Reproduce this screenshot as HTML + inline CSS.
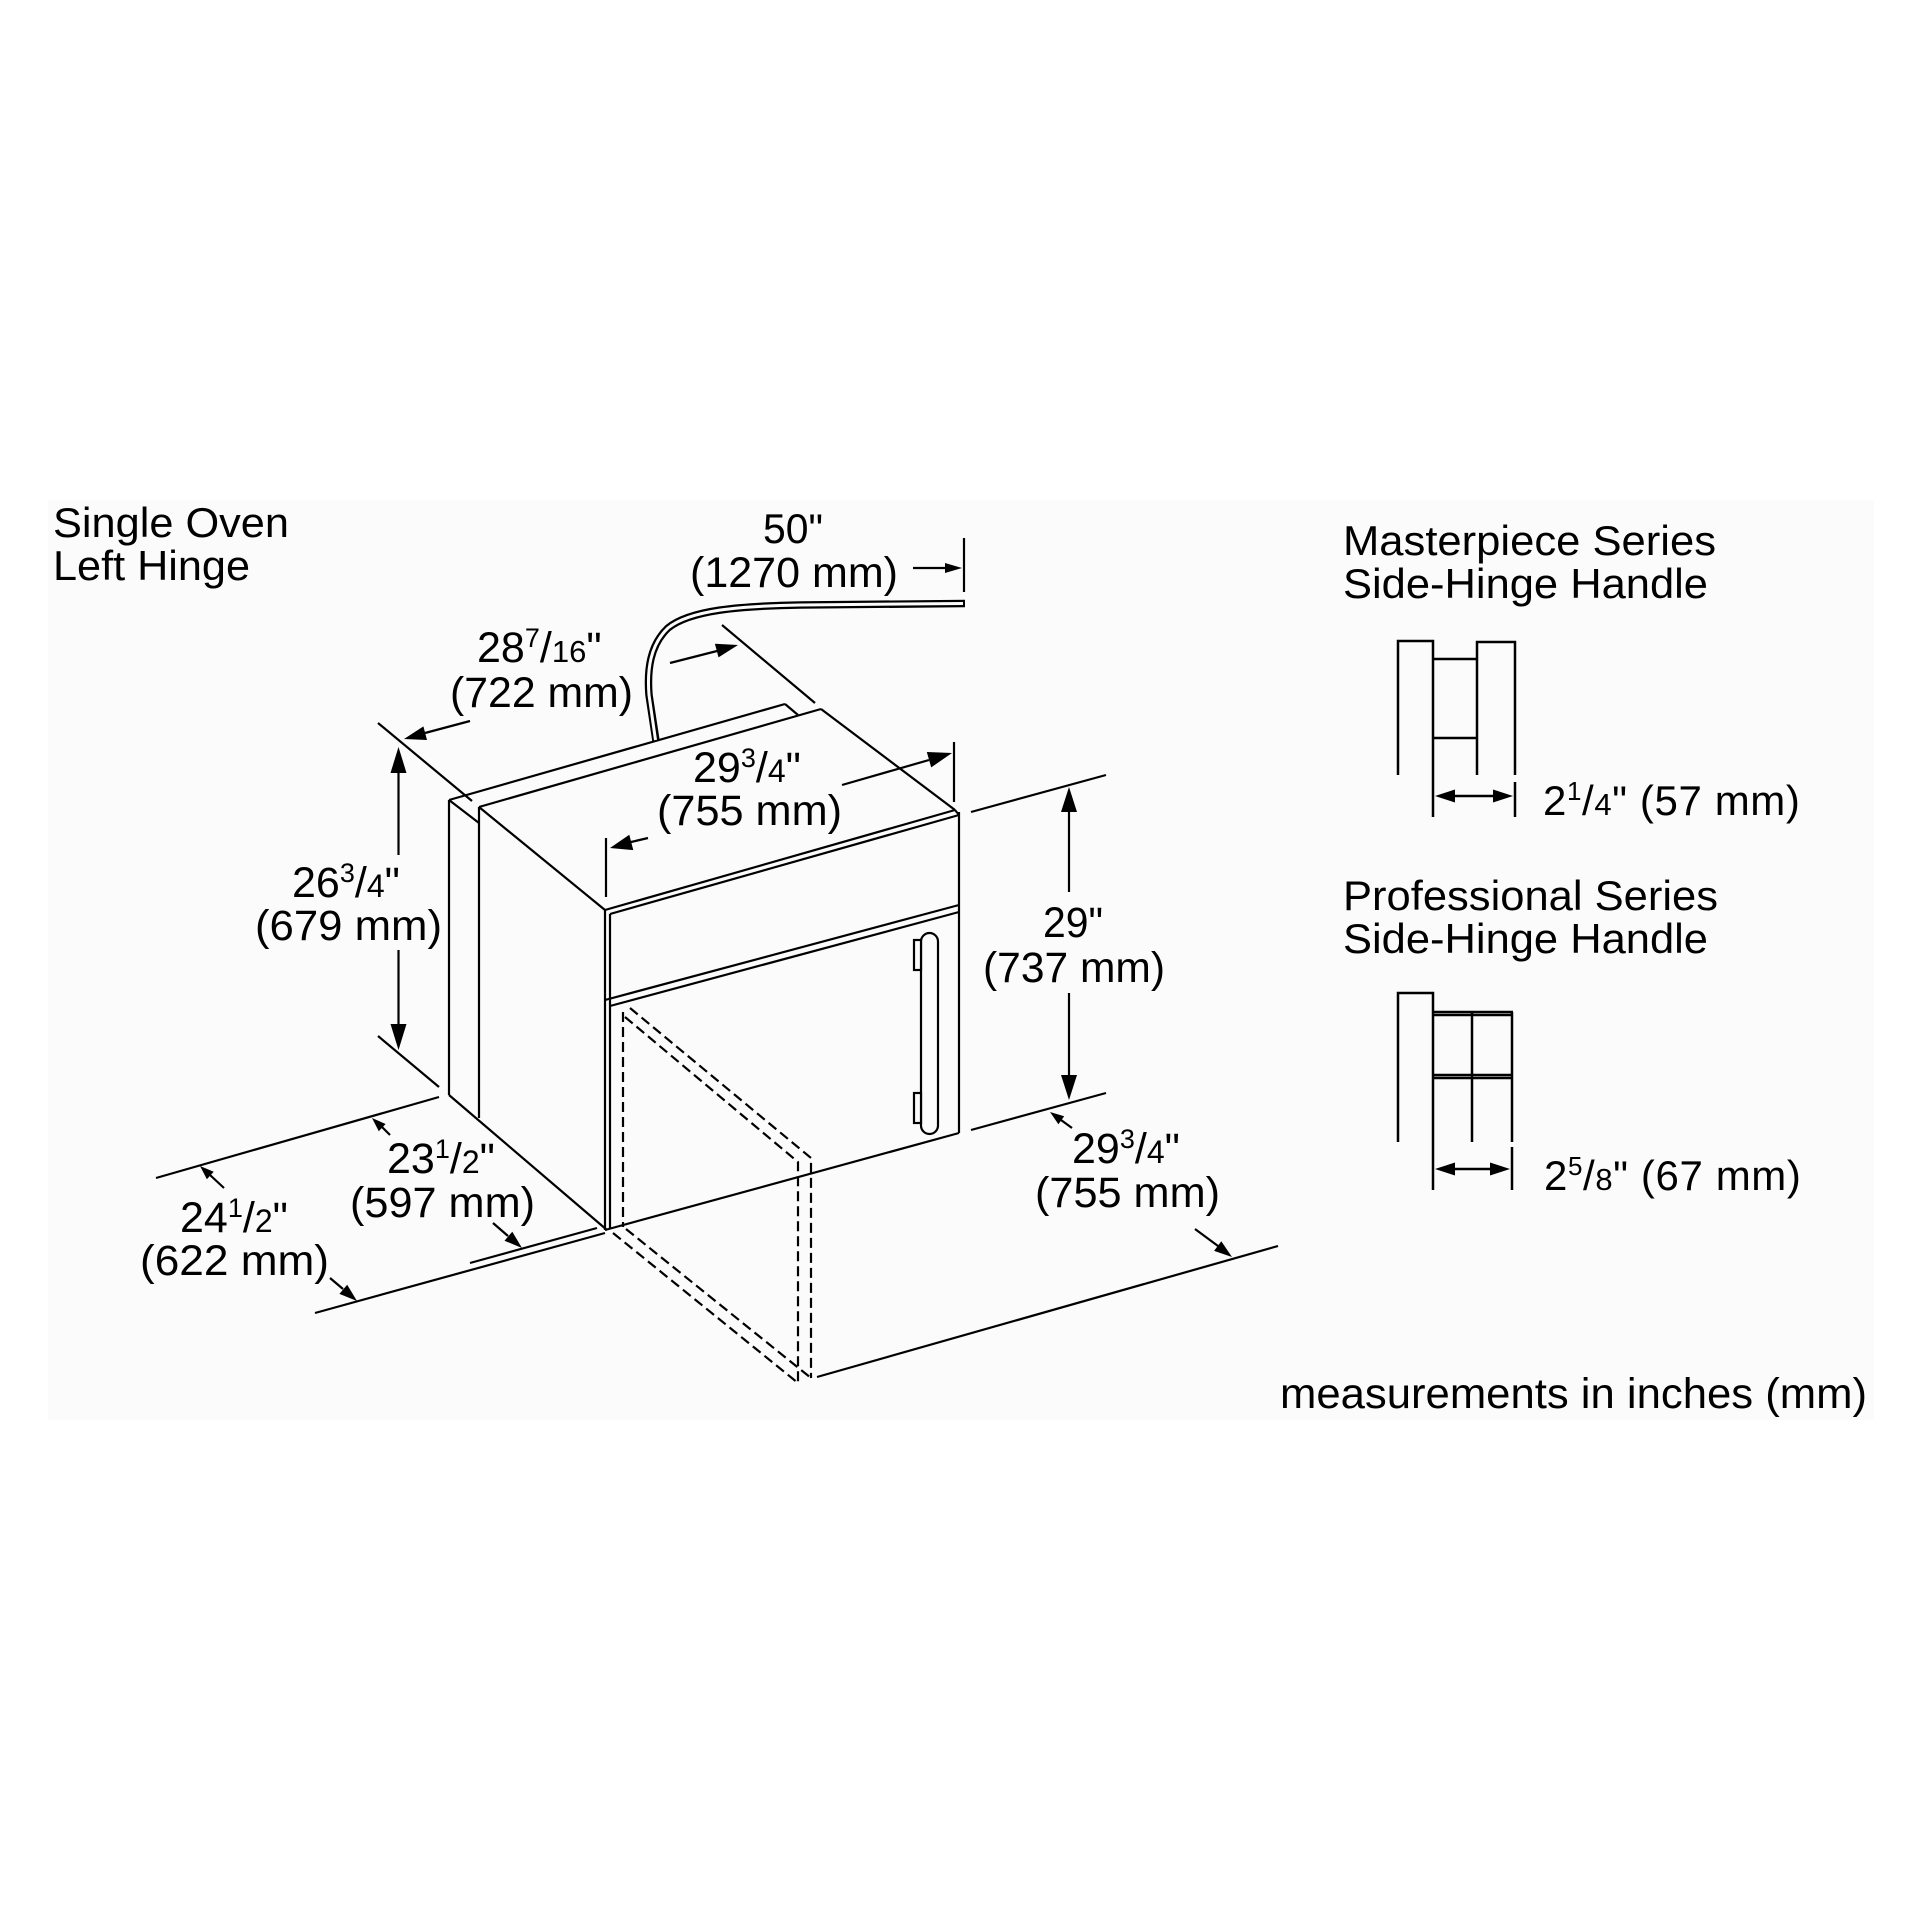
<!DOCTYPE html>
<html>
<head>
<meta charset="utf-8">
<style>
  html,body{margin:0;padding:0;background:#ffffff;}
  svg{display:block;}
  text{font-family:"Liberation Sans", Arial, sans-serif; fill:#000;}
</style>
</head>
<body>
<svg width="1920" height="1920" viewBox="0 0 1920 1920" xmlns="http://www.w3.org/2000/svg">
  <rect x="0" y="0" width="1920" height="1920" fill="#ffffff"/>
  <rect x="48" y="500" width="1826" height="920" fill="#fbfbfb"/>

  <!-- Titles -->
  <text x="53" y="537" font-size="42" textLength="236" lengthAdjust="spacingAndGlyphs">Single Oven</text>
  <text x="53" y="580" font-size="42" textLength="197" lengthAdjust="spacingAndGlyphs">Left Hinge</text>

  <g stroke="#000" stroke-width="2.2" fill="none" stroke-linecap="butt">
    <!-- Oven body -->
    <!-- side trim -->
    <line x1="449" y1="800" x2="449" y2="1095"/>
    <line x1="479" y1="807" x2="479" y2="1118"/>
    <line x1="449" y1="800" x2="479" y2="823"/>
    <line x1="449" y1="1095" x2="607" y2="1230"/>
    <!-- top back edges -->
    <line x1="449" y1="800" x2="785" y2="704"/>
    <line x1="785" y1="704" x2="798" y2="715"/>
    <line x1="479" y1="807" x2="821" y2="709"/>
    <line x1="821" y1="709" x2="955" y2="810"/>
    <line x1="479" y1="807" x2="605" y2="910"/>
    <!-- front top bevel -->
    <line x1="605" y1="910" x2="955" y2="810"/>
    <line x1="610" y1="914" x2="959" y2="815"/>
    <line x1="955" y1="810" x2="959" y2="815"/>
    <!-- front verticals -->
    <line x1="605" y1="910" x2="605" y2="1230"/>
    <line x1="610" y1="914" x2="610" y2="1229"/>
    <line x1="959" y1="812" x2="959" y2="1133"/>
    <!-- control panel bottom / door top -->
    <line x1="605" y1="1000" x2="959" y2="905"/>
    <line x1="610" y1="1006" x2="959" y2="912"/>
    <!-- door bottom -->
    <line x1="605" y1="1230" x2="959" y2="1133"/>

    <!-- door handle -->
    <rect x="921" y="933" width="17" height="201" rx="8.5" ry="8.5" fill="#fbfbfb"/>
    <rect x="914" y="940" width="7" height="30" fill="#fbfbfb"/>
    <rect x="914" y="1093" width="7" height="30" fill="#fbfbfb"/>

    <!-- extension lines -->
    <line x1="378" y1="723" x2="472" y2="801"/>
    <line x1="722" y1="625" x2="815" y2="703"/>
    <line x1="964" y1="538" x2="964" y2="592"/>
    <line x1="606" y1="838" x2="606" y2="897"/>
    <line x1="954" y1="742" x2="954" y2="802"/>
    <line x1="378" y1="1036" x2="439" y2="1087"/>
    <line x1="971" y1="812" x2="1106" y2="775"/>
    <line x1="971" y1="1130" x2="1106" y2="1093"/>
    <!-- floor lines -->
    <line x1="156" y1="1178" x2="439" y2="1097"/>
    <line x1="315" y1="1313" x2="605" y2="1233"/>
    <line x1="470" y1="1263" x2="597" y2="1228"/>
    <line x1="817" y1="1377" x2="1278" y2="1246"/>

    <!-- dimension lines -->
    <line x1="913" y1="568" x2="946" y2="568"/>
    <line x1="470" y1="721" x2="425" y2="733"/>
    <line x1="670" y1="663" x2="717" y2="651"/>
    <line x1="842" y1="785" x2="929" y2="760"/>
    <line x1="648" y1="838" x2="631" y2="842"/>
    <line x1="398.5" y1="773" x2="398.5" y2="855"/>
    <line x1="398.5" y1="950" x2="398.5" y2="1024"/>
    <line x1="1069" y1="812" x2="1069" y2="892"/>
    <line x1="1069" y1="993" x2="1069" y2="1075"/>
    <line x1="1072" y1="1128" x2="1061" y2="1120"/>
    <line x1="1195" y1="1229" x2="1218" y2="1246"/>
    <line x1="390" y1="1135" x2="382" y2="1127"/>
    <line x1="493" y1="1223" x2="508" y2="1236"/>
    <line x1="224" y1="1188" x2="210" y2="1175"/>
    <line x1="330" y1="1278" x2="343" y2="1289"/>
  </g>

  <!-- dashed open-door outline -->
  <g stroke="#000" stroke-width="2.2" fill="none" stroke-dasharray="10 5">
    <line x1="623" y1="1012" x2="623" y2="1227"/>
    <polyline points="625,1017 798,1162 798,1383"/>
    <polyline points="630,1008 811,1158 811,1378"/>
    <line x1="613" y1="1233" x2="798" y2="1383"/>
    <line x1="626" y1="1229" x2="811" y2="1378"/>
  </g>

  <!-- power cord -->
  <path d="M965,603.5 L800,605 C740,606 690,610 668,628 C650,645 647,670 649,695 L656,741" stroke="#000" stroke-width="7.5" fill="none"/>
  <path d="M963,603.5 L800,605 C740,606 690,610 668,628 C650,645 647,670 649,695 L655.5,740" stroke="#fbfbfb" stroke-width="3" fill="none"/>

  <!-- arrowheads -->
  <g fill="#000" stroke="none">
    <polygon points="962,568 945,563 945,573"/>
    <polygon points="404,739 423.4,726.4 427,740"/>
    <polygon points="738,645 718.5,657.4 714.9,643.8"/>
    <polygon points="952,753 931.2,767.4 926.8,752"/>
    <polygon points="610,848 629.3,834.7 633.3,850.1"/>
    <polygon points="398.5,747 390.5,773 406.5,773"/>
    <polygon points="398.5,1050 390.5,1024 406.5,1024"/>
    <polygon points="1069,787 1061,812 1077,812"/>
    <polygon points="1069,1100 1061,1075 1077,1075"/>
    <polygon points="1050,1112 1064.2,1116.2 1058.4,1124.2"/>
    <polygon points="1232,1257 1214.1,1250.9 1221.3,1241.3"/>
    <polygon points="372,1118 385.6,1124 378.8,1131.2"/>
    <polygon points="522,1248 504.5,1240.7 512.3,1231.7"/>
    <polygon points="200,1166 213.7,1171.8 206.9,1179.2"/>
    <polygon points="357,1301 339.4,1293.9 347.2,1284.7"/>
    <!-- handle dims -->
    <polygon points="1435,796 1455,789.5 1455,802.5"/>
    <polygon points="1513,796 1493,789.5 1493,802.5"/>
    <polygon points="1435,1169 1455,1162.5 1455,1175.5"/>
    <polygon points="1510,1169 1490,1162.5 1490,1175.5"/>
  </g>

  <!-- dimension labels -->
  <text x="763" y="543" font-size="42" textLength="60" lengthAdjust="spacingAndGlyphs">50"</text>
  <text x="690" y="587" font-size="43" textLength="208" lengthAdjust="spacingAndGlyphs">(1270 mm)</text>

  <text x="477" y="662" font-size="43">28<tspan font-size="27" dy="-15">7</tspan><tspan font-size="43" dy="15">/</tspan><tspan font-size="31">16</tspan><tspan font-size="43">"</tspan></text>
  <text x="450" y="707" font-size="43" textLength="183" lengthAdjust="spacingAndGlyphs">(722 mm)</text>

  <text x="693" y="782" font-size="43">29<tspan font-size="27" dy="-15">3</tspan><tspan font-size="43" dy="15">/</tspan><tspan font-size="32">4</tspan><tspan font-size="43">"</tspan></text>
  <text x="657" y="825" font-size="43" textLength="185" lengthAdjust="spacingAndGlyphs">(755 mm)</text>

  <text x="292" y="897" font-size="43">26<tspan font-size="27" dy="-15">3</tspan><tspan font-size="43" dy="15">/</tspan><tspan font-size="32">4</tspan><tspan font-size="43">"</tspan></text>
  <text x="255" y="940" font-size="43" textLength="187" lengthAdjust="spacingAndGlyphs">(679 mm)</text>

  <text x="1043" y="937" font-size="43" textLength="60" lengthAdjust="spacingAndGlyphs">29"</text>
  <text x="983" y="982" font-size="43" textLength="182" lengthAdjust="spacingAndGlyphs">(737 mm)</text>

  <text x="387" y="1173" font-size="43">23<tspan font-size="27" dy="-15">1</tspan><tspan font-size="43" dy="15">/</tspan><tspan font-size="32">2</tspan><tspan font-size="43">"</tspan></text>
  <text x="350" y="1217" font-size="43" textLength="185" lengthAdjust="spacingAndGlyphs">(597 mm)</text>

  <text x="180" y="1232" font-size="43">24<tspan font-size="27" dy="-15">1</tspan><tspan font-size="43" dy="15">/</tspan><tspan font-size="32">2</tspan><tspan font-size="43">"</tspan></text>
  <text x="140" y="1275" font-size="43" textLength="189" lengthAdjust="spacingAndGlyphs">(622 mm)</text>

  <text x="1072" y="1163" font-size="43">29<tspan font-size="27" dy="-15">3</tspan><tspan font-size="43" dy="15">/</tspan><tspan font-size="32">4</tspan><tspan font-size="43">"</tspan></text>
  <text x="1035" y="1207" font-size="43" textLength="185" lengthAdjust="spacingAndGlyphs">(755 mm)</text>

  <!-- Handles -->
  <text x="1343" y="555" font-size="42" textLength="373" lengthAdjust="spacingAndGlyphs">Masterpiece Series</text>
  <text x="1343" y="598" font-size="42" textLength="365" lengthAdjust="spacingAndGlyphs">Side-Hinge Handle</text>

  <g stroke="#000" stroke-width="2.5" fill="none">
    <polyline points="1398,775 1398,641 1433,641 1433,817"/>
    <polyline points="1477,775 1477,642 1515,642 1515,775"/>
    <line x1="1515" y1="782" x2="1515" y2="817"/>
    <line x1="1433" y1="659" x2="1477" y2="659"/>
    <line x1="1433" y1="738" x2="1477" y2="738"/>
    <line x1="1455" y1="796" x2="1493" y2="796"/>

    <polyline points="1398,1142 1398,993 1433,993 1433,1190"/>
    <line x1="1433" y1="1012" x2="1513" y2="1012"/>
    <line x1="1433" y1="1015" x2="1513" y2="1015"/>
    <line x1="1512" y1="1012" x2="1512" y2="1142"/>
    <line x1="1472" y1="1012" x2="1472" y2="1142"/>
    <line x1="1433" y1="1075" x2="1513" y2="1075"/>
    <line x1="1433" y1="1078" x2="1513" y2="1078"/>
    <line x1="1512" y1="1147" x2="1512" y2="1190"/>
    <line x1="1455" y1="1169" x2="1490" y2="1169"/>
  </g>

  <text x="1543" y="815" font-size="42" letter-spacing="0.6">2<tspan font-size="26" dy="-15">1</tspan><tspan font-size="42" dy="15">/</tspan><tspan font-size="31">4</tspan><tspan font-size="42">" (57 mm)</tspan></text>

  <text x="1343" y="910" font-size="42" textLength="375" lengthAdjust="spacingAndGlyphs">Professional Series</text>
  <text x="1343" y="953" font-size="42" textLength="365" lengthAdjust="spacingAndGlyphs">Side-Hinge Handle</text>

  <text x="1544" y="1190" font-size="42" letter-spacing="0.6">2<tspan font-size="26" dy="-15">5</tspan><tspan font-size="42" dy="15">/</tspan><tspan font-size="31">8</tspan><tspan font-size="42">" (67 mm)</tspan></text>

  <text x="1280" y="1408" font-size="43" textLength="587" lengthAdjust="spacingAndGlyphs">measurements in inches (mm)</text>
</svg>
</body>
</html>
